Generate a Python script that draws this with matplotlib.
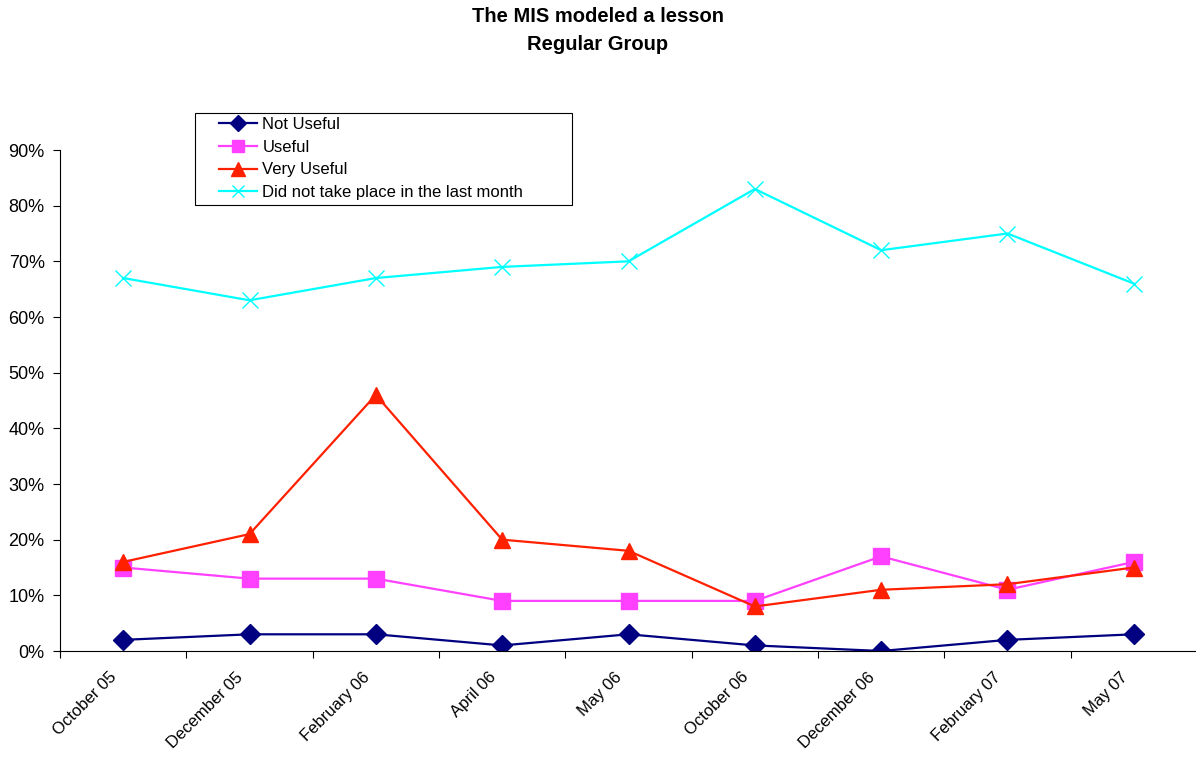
import matplotlib
matplotlib.use("Agg")
import matplotlib.pyplot as plt
import matplotlib.transforms as mtransforms
from matplotlib.ticker import PercentFormatter, FixedLocator, NullFormatter
from matplotlib.patches import Rectangle

plt.rcParams['font.family'] = ['Liberation Sans', 'DejaVu Sans']

categories = ["October 05", "December 05", "February 06", "April 06", "May 06",
              "October 06", "December 06", "February 07", "May 07"]
not_useful = [2, 3, 3, 1, 3, 1, 0, 2, 3]
useful = [15, 13, 13, 9, 9, 9, 17, 11, 16]
very_useful = [16, 21, 46, 20, 18, 8, 11, 12, 15]
did_not_take_place = [67, 63, 67, 69, 70, 83, 72, 75, 66]

W, H = 1196, 759
fig = plt.figure(figsize=(W/100, H/100), dpi=100)
ax = fig.add_axes([60/W, 1-651/H, 1137/W, (651-150)/H])

x = list(range(len(categories)))
l1, = ax.plot(x, not_useful, color='#000080', lw=1.6, marker='D', ms=10, label='Not Useful')
l2, = ax.plot(x, useful, color='#FF40FF', lw=1.6, marker='s', ms=11, label='Useful')
l3, = ax.plot(x, very_useful, color='#FF2000', lw=1.6, marker='^', ms=12, label='Very Useful')
l4, = ax.plot(x, did_not_take_place, color='#00FFFF', lw=1.6, marker='x', ms=11, mew=1.0,
              label='Did not take place in the last month')

ax.set_xlim(-0.5, len(categories) - 0.5)
ax.set_ylim(0, 90)
ax.set_yticks(range(0, 91, 10))
ax.yaxis.set_major_formatter(PercentFormatter(decimals=0))
ax.set_xticks(x)
ax.set_xticklabels(categories, rotation=45, ha='right', rotation_mode='anchor', fontsize=12)
ax.tick_params(axis='x', length=0, pad=9)
offset = mtransforms.ScaledTranslation(-14/100, -6/100, fig.dpi_scale_trans)
for lab in ax.get_xticklabels():
    lab.set_transform(lab.get_transform() + offset)
ax.xaxis.set_minor_locator(FixedLocator([i - 0.5 for i in range(len(categories) + 1)]))
ax.xaxis.set_minor_formatter(NullFormatter())
ax.tick_params(axis='x', which='minor', length=5, direction='out', width=0.8)
ax.tick_params(axis='y', length=5, direction='out', width=0.8, labelsize=13, pad=6)
for s in ['top', 'right']:
    ax.spines[s].set_visible(False)
for s in ['left', 'bottom']:
    ax.spines[s].set_linewidth(0.8)

fig.text(0.5, 1-17/H, "The MIS modeled a lesson", ha='center', va='center',
         fontsize=14.5, fontweight='bold')
fig.text(0.5, 1-44/H, "Regular Group", ha='center', va='center',
         fontsize=14.5, fontweight='bold')

leg = fig.legend(handles=[l1, l2, l3, l4], loc='upper left',
                 bbox_to_anchor=(219/W, 1-117/H), fontsize=12,
                 frameon=False, handlelength=2.3, handletextpad=0.3,
                 labelspacing=0.46, borderpad=0, borderaxespad=0, markerscale=0.8)
fig.patches.append(Rectangle((195/W, 1-205/H), 377/W, 92/H, transform=fig.transFigure,
                             fill=True, facecolor='white', edgecolor='black', lw=0.8,
                             zorder=0))

fig.savefig("out.png", dpi=100)
